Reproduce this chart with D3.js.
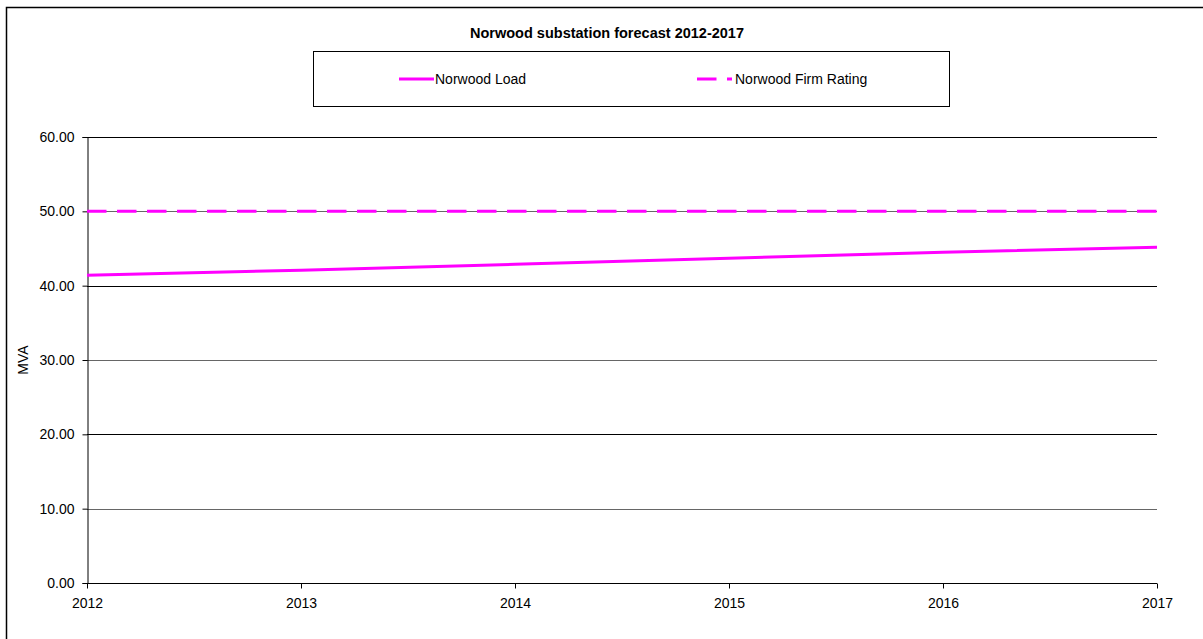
<!DOCTYPE html>
<html>
<head>
<meta charset="utf-8">
<script src="https://cdn.jsdelivr.net/npm/d3@7"></script>
<style>
  body { margin: 0; background: #fff; }
  svg { display: block; font-family: "Liberation Sans", Arial, sans-serif; }
</style>
</head>
<body>
<svg id="chart" width="1203" height="639"></svg>
<script>
// Norwood substation load forecast vs firm rating (MVA)
const years = [2012, 2013, 2014, 2015, 2016, 2017];
const loadValues = [41.40, 42.07, 42.88, 43.69, 44.49, 45.16];
const firmRating = [50, 50, 50, 50, 50, 50];
const yTicks = [0, 10, 20, 30, 40, 50, 60];
const seriesNames = ["Norwood Load", "Norwood Firm Rating"];
const titleText = "Norwood substation forecast 2012-2017";

const svg = d3.select("#chart");
const margin = { left: 87, right: 1157, top: 137, bottom: 583 };
const magenta = "#ff00ff";
const fontSize = 14;

// outer chart frame
svg.append("rect")
  .attr("x", 6.5).attr("y", 7.5)
  .attr("width", 1210).attr("height", 640)
  .attr("fill", "none").attr("stroke", "#000").attr("stroke-width", 1.5);

const x = d3.scaleLinear().domain([2012, 2017]).range([margin.left, margin.right]);
const y = d3.scaleLinear().domain([0, 60]).range([margin.bottom, margin.top]);

// horizontal gridlines
svg.append("g").selectAll("line")
  .data(yTicks.filter(d => d > 0))
  .join("line")
  .attr("x1", margin.left).attr("x2", margin.right)
  .attr("y1", d => Math.round(y(d)) + 0.5).attr("y2", d => Math.round(y(d)) + 0.5)
  .attr("stroke", d => (d % 20 === 0) ? "#000" : "#666")
  .attr("stroke-width", 1);

// y axis
const yAxis = d3.axisLeft(y).tickValues(yTicks).tickFormat(d3.format(".2f")).tickSize(5).tickPadding(8);
const gy = svg.append("g").attr("transform", `translate(${margin.left + 0.5},0)`).call(yAxis);
gy.attr("font-size", fontSize).attr("font-family", "Liberation Sans, Arial, sans-serif");
gy.select(".domain").attr("stroke", "#000");
gy.selectAll("text").attr("fill", "#000");

// x axis
const xAxis = d3.axisBottom(x).tickValues(years).tickFormat(d3.format("d")).tickSize(5).tickPadding(10);
const gx = svg.append("g").attr("transform", `translate(0,${margin.bottom + 0.5})`).call(xAxis);
gx.attr("font-size", fontSize).attr("font-family", "Liberation Sans, Arial, sans-serif");
gx.select(".domain").attr("stroke", "#000").attr("d", `M${margin.left},0H${margin.right}`);
gx.selectAll("text").attr("fill", "#000");

// series lines
const line = d3.line().x((d, i) => x(years[i])).y(d => y(d));

svg.append("path")
  .datum(firmRating)
  .attr("d", line)
  .attr("fill", "none").attr("stroke", magenta).attr("stroke-width", 3)
  .attr("stroke-dasharray", "19.5,10.5");

svg.append("path")
  .datum(loadValues)
  .attr("d", line)
  .attr("fill", "none").attr("stroke", magenta).attr("stroke-width", 3);

// y axis title
svg.append("text")
  .attr("transform", `translate(28,${(margin.top + margin.bottom) / 2}) rotate(-90)`)
  .attr("text-anchor", "middle")
  .attr("font-size", fontSize)
  .text("MVA");

// chart title
svg.append("text")
  .attr("x", 607).attr("y", 38)
  .attr("text-anchor", "middle")
  .attr("font-size", 14.5).attr("font-weight", "bold")
  .text(titleText);

// legend
const lg = svg.append("g");
lg.append("rect")
  .attr("x", 313.5).attr("y", 51.5).attr("width", 636).attr("height", 55)
  .attr("fill", "#fff").attr("stroke", "#000").attr("stroke-width", 1);

lg.append("line")
  .attr("x1", 399).attr("x2", 434).attr("y1", 79).attr("y2", 79)
  .attr("stroke", magenta).attr("stroke-width", 3);
lg.append("text").attr("x", 435).attr("y", 84).attr("font-size", fontSize).text(seriesNames[0]);

lg.append("line")
  .attr("x1", 697).attr("x2", 732).attr("y1", 79).attr("y2", 79)
  .attr("stroke", magenta).attr("stroke-width", 3)
  .attr("stroke-dasharray", "19.5,10.5");
lg.append("text").attr("x", 735).attr("y", 84).attr("font-size", fontSize).text(seriesNames[1]);
</script>
</body>
</html>
